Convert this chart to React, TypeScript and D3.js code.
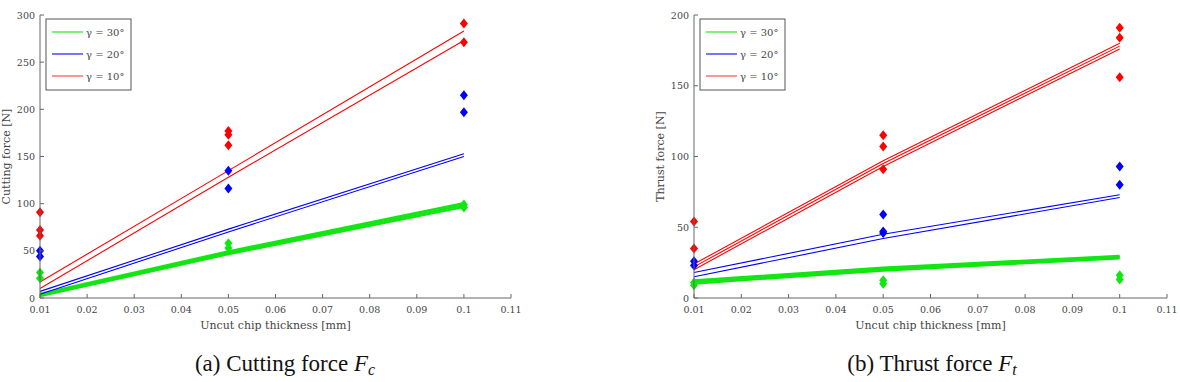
import React from "react";
import * as d3 from "d3";

// chip thickness values (mm) where forces were measured / the fit is read
const measH = [0.01, 0.05, 0.1];
const fitH = [0.01, 0.05, 0.1];
const xTicks = [0.01, 0.02, 0.03, 0.04, 0.05, 0.06, 0.07, 0.08, 0.09, 0.1, 0.11];

const seriesNames = ["γ = 30°", "γ = 20°", "γ = 10°"];
const seriesColors = ["#12e612", "#0000ff", "#ff0000"];

// cutting force [N], measured points per thickness
const cutPts30 = [[27, 21], [58, 53], [99, 96]];
const cutPts20 = [[50, 44], [135, 116], [215, 197]];
const cutPts10 = [[91, 72, 66], [177, 173, 162], [291, 271]];
// cutting force fitted lines (values at fitH)
const cutFit30 = [[4.5, 49.5, 100.5], [3.2, 48, 98.5], [2, 46.5, 96.5]];
const cutFit20 = [[7, 73, 153], [4, 70, 150]];
const cutFit10 = [[17, 135, 283], [10, 128, 273]];

// thrust force [N], measured points per thickness
const thrPts30 = [[11, 9], [12.5, 10], [16, 13]];
const thrPts20 = [[26, 23], [59, 47, 46], [93, 80]];
const thrPts10 = [[54, 35], [115, 107, 91], [191, 184, 156]];
// thrust force fitted lines
const thrFit30 = [[12.5, 21.5, 29.8], [11.3, 20.4, 28.9], [10.2, 19.4, 28]];
const thrFit20 = [[18, 45, 73], [15, 42, 71]];
const thrFit10 = [[24, 97, 180], [22, 95, 178], [20, 93, 176]];

const cutYTicks = [0, 50, 100, 150, 200, 250, 300];
const thrYTicks = [0, 50, 100, 150, 200];

const tickFont = "'DejaVu Serif', serif";

type PanelProps = {
  x0: number;
  x1: number;
  yMax: number;
  yTicks: number[];
  yLabel: string;
  yLabelX: number;
  pts: number[][][];
  fits: number[][][];
  caption: string;
  sub: string;
  captionX: number;
};

const diamond = "M0,-5L4,0L0,5L-4,0Z";

const Panel = (props: PanelProps) => {
  const top = 15;
  const bottom = 298;
  const x = d3.scaleLinear().domain([0.01, 0.11]).range([props.x0, props.x1]);
  const y = d3.scaleLinear().domain([0, props.yMax]).range([bottom, top]);
  const line = d3
    .line<number>()
    .x((d, i) => x(fitH[i]))
    .y((d) => y(d));
  const axisColor = "#666";
  const textColor = "#444";

  const lx = props.x0 + 6;
  return (
    <g>
      {/* fitted lines */}
      {props.fits.map((group, si) =>
        group.map((vals, j) => (
          <path
            key={`f${si}-${j}`}
            d={line(vals) || ""}
            fill="none"
            stroke={seriesColors[si]}
            strokeWidth={si === 0 ? 2.2 : 1.1}
          />
        ))
      )}
      {/* measured points */}
      {props.pts.map((group, si) =>
        group.map((vals, k) =>
          vals.map((v, j) => (
            <path
              key={`p${si}-${k}-${j}`}
              d={diamond}
              transform={`translate(${x(measH[k])},${y(v)})`}
              fill={seriesColors[si]}
            />
          ))
        )
      )}
      {/* axes */}
      <line x1={props.x0} x2={props.x0} y1={top} y2={bottom} stroke={axisColor} />
      <line x1={props.x0} x2={props.x1} y1={bottom} y2={bottom} stroke={axisColor} />
      {xTicks.map((t) => (
        <g key={`xt${t}`}>
          <line x1={x(t)} x2={x(t)} y1={bottom} y2={bottom - 4} stroke={axisColor} />
          <text
            x={x(t)}
            y={bottom + 15}
            textAnchor="middle"
            fontSize={9.5}
            fontFamily={tickFont}
            fill={textColor}
          >
            {t}
          </text>
        </g>
      ))}
      {props.yTicks.map((t) => (
        <g key={`yt${t}`}>
          <line x1={props.x0} x2={props.x0 + 4} y1={y(t)} y2={y(t)} stroke={axisColor} />
          <text
            x={props.x0 - 5}
            y={y(t) + 3.5}
            textAnchor="end"
            fontSize={9.5}
            fontFamily={tickFont}
            fill={textColor}
          >
            {t}
          </text>
        </g>
      ))}
      <text
        x={(props.x0 + props.x1) / 2}
        y={bottom + 31}
        textAnchor="middle"
        fontSize={11}
        fontFamily={tickFont}
        fill={textColor}
      >
        Uncut chip thickness [mm]
      </text>
      <text
        transform={`translate(${props.yLabelX},${(top + bottom) / 2}) rotate(-90)`}
        textAnchor="middle"
        fontSize={11}
        fontFamily={tickFont}
        fill={textColor}
      >
        {props.yLabel}
      </text>
      {/* legend */}
      <rect x={lx} y={19} width={85} height={71} fill="white" stroke="#555" />
      {seriesNames.map((name, i) => (
        <g key={name}>
          <line
            x1={lx + 6}
            x2={lx + 37}
            y1={32 + i * 22}
            y2={32 + i * 22}
            stroke={seriesColors[i]}
            strokeWidth={1.2}
            opacity={i === 2 ? 0.7 : 0.9}
          />
          <text
            x={lx + 40}
            y={32 + i * 22 + 3.5}
            fontSize={10}
            fontFamily={tickFont}
            fill={textColor}
          >
            {name}
          </text>
        </g>
      ))}
      {/* caption */}
      <text
        x={props.captionX}
        y={371}
        textAnchor="middle"
        fontSize={23}
        fontFamily="'Liberation Serif', serif"
        fill="#111"
      >
        {props.caption}
        <tspan fontStyle="italic">F</tspan>
        <tspan fontStyle="italic" fontSize={16} dy={4}>
          {props.sub}
        </tspan>
      </text>
    </g>
  );
};

export default function App() {
  return (
    <svg
      width={1180}
      height={382}
      style={{ position: "absolute", left: 0, top: 0, background: "white" }}
    >
      <Panel
        x0={40}
        x1={511}
        yMax={300}
        yTicks={cutYTicks}
        yLabel="Cutting force [N]"
        yLabelX={10}
        pts={[cutPts30, cutPts20, cutPts10]}
        fits={[cutFit30, cutFit20, cutFit10]}
        caption="(a) Cutting force "
        sub="c"
        captionX={285}
      />
      <Panel
        x0={694}
        x1={1167}
        yMax={200}
        yTicks={thrYTicks}
        yLabel="Thrust force [N]"
        yLabelX={664}
        pts={[thrPts30, thrPts20, thrPts10]}
        fits={[thrFit30, thrFit20, thrFit10]}
        caption="(b) Thrust force "
        sub="t"
        captionX={932}
      />
    </svg>
  );
}
